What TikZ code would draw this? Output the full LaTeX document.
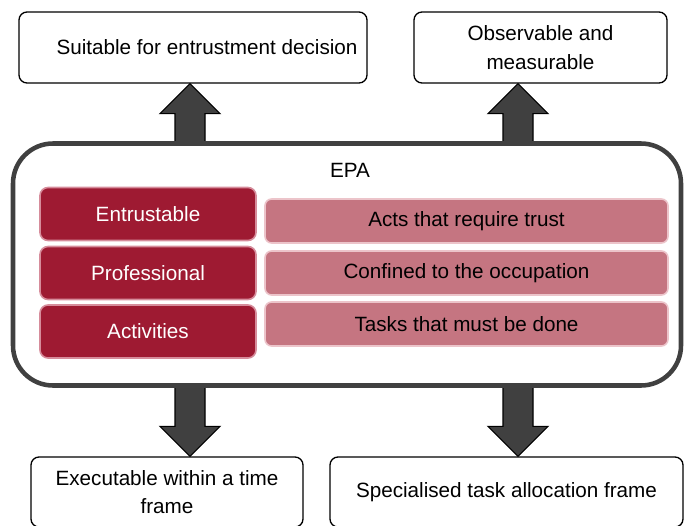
\documentclass[tikz,border=0pt]{standalone}
\usepackage{fontspec}
\setmainfont{Liberation Sans}
\usetikzlibrary{calc,backgrounds}
\definecolor{epared}{RGB}{158,26,50}
\definecolor{eparedline}{RGB}{214,140,155}
\definecolor{epapink}{RGB}{197,117,129}
\definecolor{epapinkline}{RGB}{236,196,202}
\definecolor{epagray}{RGB}{64,64,64}
\def\px{0.75pt}
\newcommand\epafont{\fontsize{15.5}{21.5}\selectfont}
% block arrow from #1 (base) to #2 (tip), vertical only
\newcommand\fatarrow[2]{%
  \draw[fat] let \p1=(#1), \p2=(#2), \p3=($(#2)!22.5pt!(#1)$) in
    (\x1-11.25pt,\y1) -- (\x1-11.25pt,\y3) -- (\x1-22.5pt,\y3) -- (\p2)
    -- (\x1+22.5pt,\y3) -- (\x1+11.25pt,\y3) -- (\x1+11.25pt,\y1) -- cycle;}

\begin{document}
\begin{tikzpicture}[x=0.75pt, y=-0.75pt,
  every node/.style={font=\epafont},
  outbox/.style={draw, line width=1pt, rounded corners=6pt, align=center,
                 inner sep=0pt, minimum height=71*\px},
  lettr/.style={fill=epared, draw=eparedline, line width=1.2pt, rounded corners=6pt,
                text=white, minimum width=216*\px, minimum height=53*\px},
  meaning/.style={fill=epapink, draw=epapinkline, line width=1.2pt, rounded corners=5pt,
                  minimum width=403*\px, minimum height=44*\px},
  fat/.style={fill=epagray, draw=black, line width=0.8pt, line join=miter},
]
\clip (0,0) rectangle (684,525);

% outcomes above
\node[outbox, minimum width=348*\px] (suit) at (193,47.5) {\hspace*{21pt}Suitable for entrustment decision};
\node[outbox, minimum width=253*\px] (obs) at (540.5,47.5) {Observable and\\measurable};

% the EPA frame
\node[draw=epagray, line width=3.4pt, rounded corners=30pt, outer sep=0pt,
      minimum width=668*\px, minimum height=242*\px] (epa) at (347,264.5) {};
\node (epalbl) at (350,170) {EPA};

\node[lettr] (e) at (148,214)   {Entrustable};
\node[lettr] (p) at (148,273)   {Professional};
\node[lettr] (a) at (148,331.5) {Activities};

\node[meaning] (me) at (466.5,221) {Acts that require trust};
\node[meaning] (mp) at (466.5,273) {Confined to the occupation};
\node[meaning] (ma) at (466.5,324) {Tasks that must be done};

% outcomes below
\node[outbox, minimum width=272*\px, minimum height=70*\px] (exec) at (167,492) {Executable within a time\\frame};
\node[outbox, minimum width=353*\px, minimum height=70*\px] (spec) at (506.5,492) {Specialised task allocation frame};

\coordinate (colL) at (190,0);
\coordinate (colR) at (518,0);
\begin{scope}[on background layer]
\fatarrow{epa.north -| colL}{suit.south -| colL}
\fatarrow{epa.north -| colR}{obs.south -| colR}
\fatarrow{epa.south -| colL}{exec.north -| colL}
\fatarrow{epa.south -| colR}{spec.north -| colR}
\end{scope}
\end{tikzpicture}
\end{document}
